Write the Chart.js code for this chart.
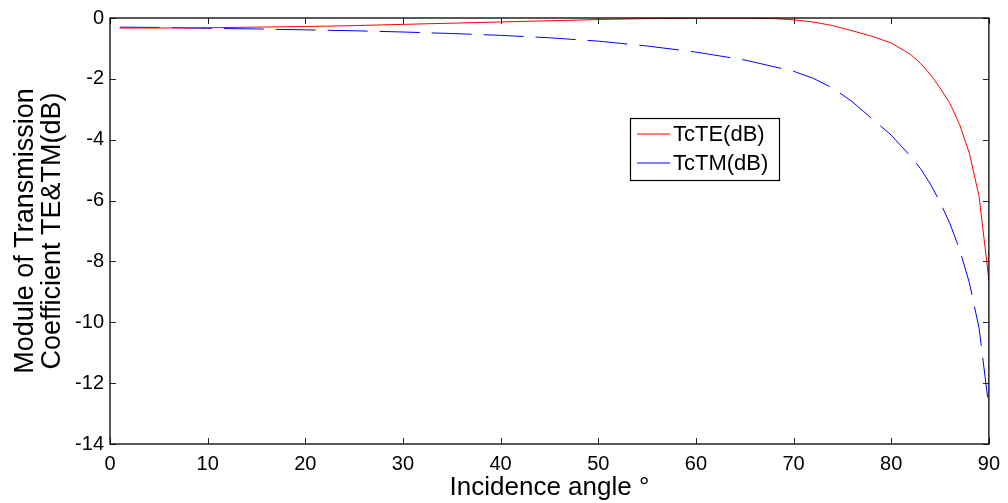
<!DOCTYPE html>
<html>
<head>
<meta charset="utf-8">
<script src="https://cdn.jsdelivr.net/npm/chart.js@4"></script>
<style>
  html, body { margin: 0; padding: 0; background: #fff; }
  #wrap { width: 1008px; height: 503px; }
</style>
</head>
<body>
<div id="wrap"><canvas id="tcChart" width="1008" height="503"></canvas></div>
<script>
// angles and values
let teAngles = [1, 5, 10, 15, 20, 25, 30, 35, 40, 45, 50, 55, 60, 65, 68, 70, 72, 74, 76, 78, 80, 82, 83, 84, 85, 86, 87, 88, 89, 90];
let teValues = [-0.33, -0.33, -0.32, -0.30, -0.28, -0.25, -0.21, -0.17, -0.13, -0.09, -0.05, -0.02, -0.01, -0.01, -0.02, -0.06, -0.13, -0.25, -0.42, -0.6, -0.82, -1.2, -1.49, -1.85, -2.3, -2.8, -3.5, -4.44, -5.87, -8.61];

let tmAngles = [1, 5, 10, 15, 20, 25, 30, 35, 40, 45, 50, 55, 60, 65, 70, 72, 74, 76, 78, 80, 81, 82, 83, 84, 85, 86, 87, 88, 89, 90];
let tmValues = [-0.30, -0.31, -0.34, -0.36, -0.39, -0.42, -0.46, -0.51, -0.57, -0.65, -0.76, -0.92, -1.12, -1.38, -1.75, -1.98, -2.3, -2.75, -3.3, -3.85, -4.2, -4.55, -4.95, -5.45, -6.05, -6.75, -7.6, -8.7, -10.2, -12.8];

let xTicks = [0, 10, 20, 30, 40, 50, 60, 70, 80, 90];
let yTicks = [0, -2, -4, -6, -8, -10, -12, -14];
let seriesNames = ["TcTE(dB)", "TcTM(dB)"];
let seriesColors = ["#ff0000", "#0000ff"];

let fontName = "'Liberation Sans', Arial, sans-serif";

function toPoints(xs, ys) {
    return xs.map((x, i) => ({ x: x, y: ys[i] }));
}

// MATLAB style box, inward ticks and legend
let matlabBox = {
    id: 'matlabBox',
    afterDraw(chart) {
        let ctx = chart.ctx;
        let a = chart.chartArea;
        let xs = chart.scales.x;
        let ys = chart.scales.y;
        ctx.save();
        ctx.setLineDash([]);
        ctx.strokeStyle = "#262626";
        ctx.lineWidth = 1;
        xTicks.forEach(t => {
            let px = Math.round(xs.getPixelForValue(t)) + 0.5;
            ctx.beginPath();
            ctx.moveTo(px, a.bottom); ctx.lineTo(px, a.bottom - 6);
            ctx.moveTo(px, a.top); ctx.lineTo(px, a.top + 6);
            ctx.stroke();
        });
        yTicks.forEach(t => {
            let py = Math.round(ys.getPixelForValue(t)) + 0.5;
            ctx.beginPath();
            ctx.moveTo(a.left, py); ctx.lineTo(a.left + 6, py);
            ctx.moveTo(a.right, py); ctx.lineTo(a.right - 6, py);
            ctx.stroke();
        });
        ctx.strokeStyle = "#000";
        ctx.lineWidth = 1.3;
        ctx.strokeRect(a.left, a.top, a.right - a.left, a.bottom - a.top);

        // legend
        let lx = 630, ly = 118, lw = 149, lh = 62;
        ctx.fillStyle = "#fff";
        ctx.fillRect(lx, ly, lw, lh);
        ctx.strokeStyle = "#000";
        ctx.lineWidth = 1.2;
        ctx.strokeRect(lx + 0.5, ly + 0.5, lw, lh);
        ctx.font = "22px " + fontName;
        ctx.textBaseline = "middle";
        seriesNames.forEach((name, i) => {
            let yy = ly + 16 + i * 29;
            ctx.strokeStyle = seriesColors[i];
            ctx.lineWidth = 1.2;
            ctx.beginPath();
            ctx.moveTo(lx + 7, yy);
            ctx.lineTo(lx + 40, yy);
            ctx.stroke();
            ctx.fillStyle = "#000";
            ctx.fillText(name, lx + 43, yy + 1);
        });
        ctx.restore();
    }
};

let ctx = document.getElementById("tcChart").getContext("2d");
let tcChart = new Chart(ctx, {
    type: 'line',
    data: {
        datasets: [{
            label: seriesNames[0],
            data: toPoints(teAngles, teValues),
            borderColor: seriesColors[0],
            borderWidth: 1,
            pointRadius: 0,
            tension: 0
        }, {
            label: seriesNames[1],
            data: toPoints(tmAngles, tmValues),
            borderColor: seriesColors[1],
            borderWidth: 1,
            borderDash: [40, 12],
            pointRadius: 0,
            tension: 0
        }]
    },
    options: {
        responsive: false,
        animation: false,
        layout: { padding: { top: 18, right: 18, left: 0, bottom: 0 } },
        plugins: {
            legend: { display: false },
            tooltip: { enabled: false }
        },
        scales: {
            x: {
                type: 'linear',
                min: 0,
                max: 90,
                afterBuildTicks: s => { s.ticks = xTicks.map(v => ({ value: v })); },
                afterFit: s => { s.height = 59; },
                grid: { display: false, drawTicks: false },
                border: { display: false },
                ticks: {
                    color: "#000",
                    padding: 8,
                    maxRotation: 0,
                    font: { family: fontName, size: 20 }
                },
                title: {
                    display: true,
                    text: "Incidence angle \u00b0",
                    color: "#000",
                    padding: { top: 0, bottom: 0 },
                    font: { family: fontName, size: 26 }
                }
            },
            y: {
                type: 'linear',
                min: -14,
                max: 0,
                afterBuildTicks: s => { s.ticks = yTicks.map(v => ({ value: v })); },
                afterFit: s => { s.width = 110; },
                grid: { display: false, drawTicks: false },
                border: { display: false },
                ticks: {
                    color: "#000",
                    padding: 6,
                    font: { family: fontName, size: 20 }
                },
                title: {
                    display: true,
                    text: ["Module of Transmission", "Coefficient TE&TM(dB)"],
                    color: "#000",
                    padding: { top: 12, bottom: 0 },
                    font: { family: fontName, size: 27, lineHeight: 1.0 }
                }
            }
        }
    },
    plugins: [matlabBox]
});
</script>
</body>
</html>
